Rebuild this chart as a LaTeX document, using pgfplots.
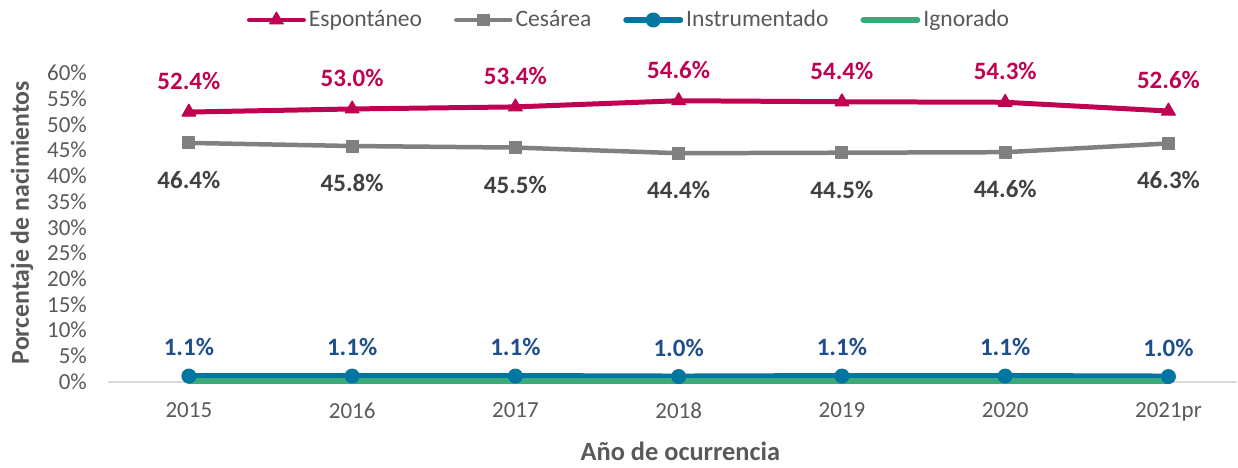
\documentclass[border=0pt]{standalone}
\usepackage{pgfplots}
\pgfplotsset{compat=1.18}
\usepackage{fontspec}
\setmainfont{Carlito}
\definecolor{espC}{RGB}{192,0,80}
\definecolor{cesC}{RGB}{128,128,128}
\definecolor{insC}{RGB}{0,118,160}
\definecolor{ignC}{RGB}{58,170,120}
\definecolor{labBlue}{RGB}{31,78,140}
\definecolor{labGray}{RGB}{64,64,64}
\definecolor{tickGray}{RGB}{89,89,89}
\definecolor{baseGray}{RGB}{217,217,217}
\begin{document}
\begin{tikzpicture}
\begin{axis}[
  name=ax,
  scale only axis, width=565pt, height=154.5pt,
  xmin=-0.496, xmax=6.42, ymin=0, ymax=60,
  clip=false,
  xtick={0,1,2,3,4,5,6},
  xticklabels={2015,2016,2017,2018,2019,2020,2021pr},
  ytick={0,5,...,60},
  yticklabel={\pgfmathprintnumber{\tick}\%},
  /pgf/number format/assume math mode=true,
  axis line style={draw=none},
  major tick length=0pt,
  extra y ticks={0}, extra y tick labels={},
  extra y tick style={grid=major, major grid style={draw=baseGray, line width=1pt}},
  ticklabel style={font=\fontsize{11.5}{13}\selectfont, text=tickGray},
  xticklabel style={yshift=-7pt},
  yticklabel style={xshift=-7pt},
  xlabel={Año de ocurrencia},
  ylabel={Porcentaje de nacimientos},
  xlabel style={font=\bfseries\fontsize{13.2}{15}\selectfont, text=tickGray, at={(axis description cs:0.507,-0.2265)}, anchor=center},
  ylabel style={font=\bfseries\fontsize{12.9}{15}\selectfont, text=tickGray, at={(axis description cs:-0.0761,0.515)}, anchor=center},
  legend columns=4,
  legend style={draw=none, fill=none, at={(rel axis cs:0.462,1.1715)}, anchor=center,
    font=\fontsize{11.8}{13}\selectfont, text=tickGray,
    /tikz/every even column/.append style={column sep=14.5pt},
    nodes={inner sep=1.5pt}},
  legend image code/.code={\draw[mark repeat=2,mark phase=2,#1] plot coordinates {(0pt,0pt) (13.5pt,0pt) (27pt,0pt)};},
  nodes near coords={\pgfmathprintnumber[fixed,fixed zerofill,precision=1]{\pgfplotspointmeta}\%},
]
\addplot[espC, line width=2.5pt, line join=round, line cap=round, mark=triangle*, mark size=4pt, mark options={fill=espC, line width=0.5pt},
  every node near coord/.append style={font=\bfseries\fontsize{12.5}{14}\selectfont, text=espC, anchor=center, yshift=15.5pt}]
  coordinates {(0,52.4) (1,53.0) (2,53.4) (3,54.6) (4,54.4) (5,54.3) (6,52.6)};
\addlegendentry{Espontáneo}
\addplot[cesC, line width=2.25pt, line join=round, line cap=round, mark=square*, mark size=3pt, mark options={fill=cesC, line width=0.5pt},
  every node near coord/.append style={font=\bfseries\fontsize{12.5}{14}\selectfont, text=labGray, anchor=center, yshift=-18.5pt}]
  coordinates {(0,46.4) (1,45.8) (2,45.5) (3,44.4) (4,44.5) (5,44.6) (6,46.3)};
\addlegendentry{Cesárea}
\addplot[insC, line width=3pt, line join=round, line cap=round, mark=*, mark size=3.5pt, mark options={fill=insC, line width=0.5pt},
  every node near coord/.append style={font=\bfseries\fontsize{12.5}{14}\selectfont, text=labBlue, anchor=center, yshift=14.5pt}]
  coordinates {(0,1.1) (1,1.1) (2,1.1) (3,1.0) (4,1.1) (5,1.1) (6,1.0)};
\addlegendentry{Instrumentado}
\addplot[ignC, line width=3pt, line join=round, line cap=round, no marks, nodes near coords={}]
  coordinates {(0,0.1) (1,0.1) (2,0.1) (3,0.1) (4,0.1) (5,0.1) (6,0.1)};
\addlegendentry{Ignorado}
\end{axis}
\path (ax.south west) ++(-54pt,-40.5pt) rectangle ++(619pt,231.5pt);
\end{tikzpicture}
\end{document}
